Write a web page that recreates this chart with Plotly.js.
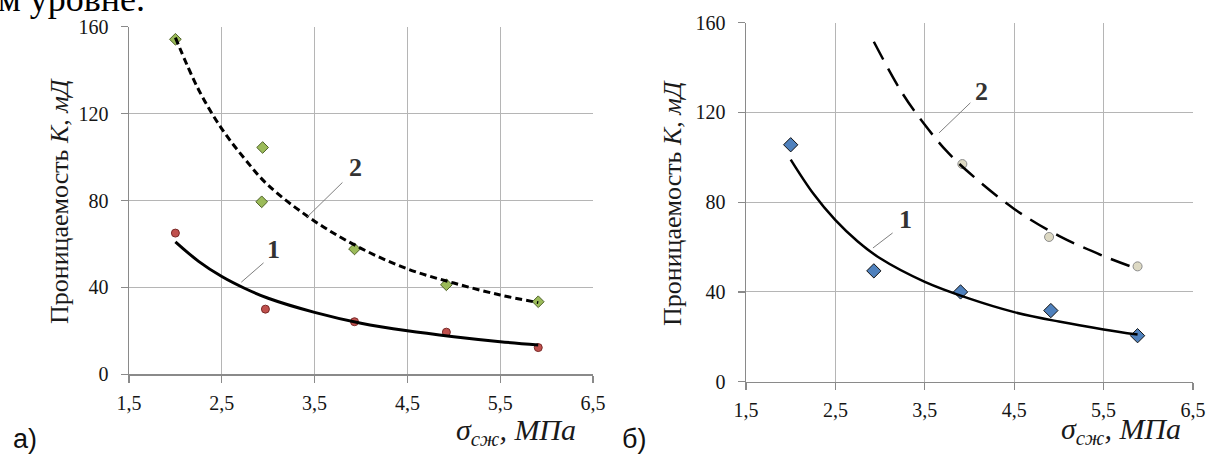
<!DOCTYPE html>
<html><head><meta charset="utf-8">
<script src="https://cdn.plot.ly/plotly-3.0.1.min.js"></script>
<style>html,body{margin:0;padding:0;background:#fff;}#chart{width:1208px;height:455px;}</style>
</head><body><div id="chart"></div>
<script>
// ---- Panel a) ----
const a_sigma1 = [2.0, 2.97, 3.93, 4.92, 5.91];
const a_K1 = [65, 30, 24.2, 19.4, 12.3];
const a_sigma2 = [2.0, 2.94, 2.93, 3.93, 4.92, 5.91];
const a_K2 = [154.2, 104.4, 79.4, 57.7, 41.2, 33.4];
const a_trendX = [2.0, 2.25, 2.5, 2.75, 3.0, 3.5, 4.0, 4.5, 5.0, 5.5, 5.91];
const a_trend1 = [61, 52, 45, 39.5, 35, 28.5, 23.5, 20, 17.3, 15, 13.5];
const a_trend2 = [155, 131, 113, 99, 87, 70.5, 58, 48.5, 42, 36.5, 33];
// ---- Panel б) ----
const b_sigma1 = [2.0, 2.93, 3.90, 4.91, 5.88];
const b_K1 = [105.6, 49.4, 40.0, 31.7, 20.5];
const b_sigma2 = [3.92, 4.89, 5.88];
const b_K2 = [97.0, 64.5, 51.4];
const b_trendX1 = [2.0, 2.25, 2.5, 2.75, 3.0, 3.5, 4.0, 4.5, 5.0, 5.5, 5.88];
const b_trend1 = [99, 84, 72, 62.5, 55, 44.5, 37, 31, 26.8, 23.3, 21];
const b_trendX2 = [2.93, 3.25, 3.5, 3.75, 4.0, 4.5, 5.0, 5.5, 5.88];
const b_trend2 = [151.5, 128.5, 114.5, 102.5, 93, 77, 65, 56, 50.3];
// ---- Axis ticks ----
const xTickVals = [1.5, 2.5, 3.5, 4.5, 5.5, 6.5];
const xTickText = ['1,5', '2,5', '3,5', '4,5', '5,5', '6,5'];
const yTickVals = [0, 40, 80, 120, 160];
const yTickText = ['0', '40', '80', '120', '160'];
const yTitle = 'Проницаемость <i>K</i>, <i>мД</i>';
const xTitle = '<i>σ<sub>сж</sub>, МПа</i>';

const SERIF = 'Liberation Serif';
const traces = [
  {x: a_sigma1, y: a_K1, xaxis: 'x', yaxis: 'y', mode: 'markers', type: 'scatter',
   marker: {symbol: 'circle', size: 8, color: '#c0504d', line: {color: '#7a2a28', width: 1}}},
  {x: a_sigma2, y: a_K2, xaxis: 'x', yaxis: 'y', mode: 'markers', type: 'scatter',
   marker: {symbol: 'diamond', size: 9, color: '#9bbb59', line: {color: '#4f6228', width: 1}}},
  {x: a_trendX, y: a_trend1, xaxis: 'x', yaxis: 'y', mode: 'lines', type: 'scatter',
   line: {color: '#000', width: 3, shape: 'spline'}},
  {x: a_trendX, y: a_trend2, xaxis: 'x', yaxis: 'y', mode: 'lines', type: 'scatter',
   line: {color: '#000', width: 3, shape: 'spline', dash: '7px,4px'}},
  {x: b_sigma1, y: b_K1, xaxis: 'x2', yaxis: 'y2', mode: 'markers', type: 'scatter',
   marker: {symbol: 'diamond', size: 11, color: '#4f81bd', line: {color: '#111', width: 1}}},
  {x: b_sigma2, y: b_K2, xaxis: 'x2', yaxis: 'y2', mode: 'markers', type: 'scatter',
   marker: {symbol: 'circle', size: 9, color: '#ddd9c3', line: {color: '#8c8c8c', width: 1}}},
  {x: b_trendX1, y: b_trend1, xaxis: 'x2', yaxis: 'y2', mode: 'lines', type: 'scatter',
   line: {color: '#000', width: 2.5, shape: 'spline'}},
  {x: b_trendX2, y: b_trend2, xaxis: 'x2', yaxis: 'y2', mode: 'lines', type: 'scatter',
   line: {color: '#000', width: 2.5, shape: 'spline', dash: '20px,10px'}}
];

const tickFont = {family: SERIF, size: 20, color: '#151515'};
function xa(domain, anchor) {
  return {domain: domain, anchor: anchor, range: [1.5, 6.5], tickmode: 'array',
    tickvals: xTickVals, ticktext: xTickText, ticks: 'outside', ticklen: 7, tickwidth: 1.2,
    tickcolor: '#8a8a8a', showgrid: true, gridcolor: '#b5b5b5', gridwidth: 1,
    showline: true, linecolor: '#8a8a8a', linewidth: 1.5, zeroline: false,
    ticklabelstandoff: 3, tickfont: tickFont, fixedrange: true};
}
function ya(domain, anchor) {
  return {domain: domain, anchor: anchor, range: [0, 160], tickmode: 'array',
    tickvals: yTickVals, ticktext: yTickText, ticks: 'outside', ticklen: 7, tickwidth: 1.2,
    tickcolor: '#8a8a8a', showgrid: true, gridcolor: '#b5b5b5', gridwidth: 1,
    showline: true, linecolor: '#8a8a8a', linewidth: 1.5, zeroline: false,
    ticklabelstandoff: 8, tickfont: tickFont, fixedrange: true};
}

const ann = [];
function txt(x, y, xref, yref, text, size, opts) {
  ann.push(Object.assign({x: x, y: y, xref: xref, yref: yref, text: text, showarrow: false,
    xanchor: 'center', yanchor: 'middle',
    font: {family: SERIF, size: size, color: '#1a1a1a'}}, opts || {}));
}
const lblFont = {family: SERIF, size: 26, color: '#333'};
// curve labels
txt(3.94, 95, 'x', 'y', '<b>2</b>', 26, {font: lblFont});
txt(3.06, 57.5, 'x', 'y', '<b>1</b>', 26, {font: lblFont});
txt(4.13, 129.5, 'x2', 'y2', '<b>2</b>', 26, {font: lblFont});
txt(3.28, 72.5, 'x2', 'y2', '<b>1</b>', 26, {font: lblFont});
// axis titles
txt(59 / 1208, 1 - 201 / 455, 'paper', 'paper', yTitle, 26, {textangle: -90});
txt(672 / 1208, 1 - 203 / 455, 'paper', 'paper', yTitle, 26, {textangle: -90});
txt(578 / 1208, 1 - 432 / 455, 'paper', 'paper', xTitle, 30, {xanchor: 'right'});
txt(1183 / 1208, 1 - 431 / 455, 'paper', 'paper', xTitle, 30, {xanchor: 'right'});
// panel letters
const sansFont = {family: 'Liberation Sans', size: 27, color: '#111'};
txt(25 / 1208, 1 - 439 / 455, 'paper', 'paper', 'а)', 27, {font: sansFont});
txt(634 / 1208, 1 - 439 / 455, 'paper', 'paper', 'б)', 27, {font: sansFont});
// cut-off text at the top of the page
txt(-4 / 1208, 1 + 1 / 455, 'paper', 'paper', 'м уровне.', 36, {xanchor: 'left', font: {family: SERIF, size: 36, color: '#000'}});

const leader = {type: 'line', line: {color: '#7f7f7f', width: 1}};
const shapes = [
  Object.assign({xref: 'x', yref: 'y', x0: 3.80, y0: 88.3, x1: 3.41, y1: 72}, leader),
  Object.assign({xref: 'x', yref: 'y', x0: 2.95, y0: 51.3, x1: 2.71, y1: 42.4}, leader),
  Object.assign({xref: 'x2', yref: 'y2', x0: 4.01, y0: 124.3, x1: 3.66, y1: 110.9}, leader),
  Object.assign({xref: 'x2', yref: 'y2', x0: 3.14, y0: 66.3, x1: 2.92, y1: 59.6}, leader)
];

const layout = {
  width: 1208, height: 455, margin: {l: 0, r: 0, t: 0, b: 0},
  font: {family: SERIF, size: 20, color: '#151515'},
  paper_bgcolor: '#fff', plot_bgcolor: '#fff', showlegend: false,
  xaxis: xa([129 / 1208, 593 / 1208], 'y'),
  yaxis: ya([1 - 374.3 / 455, 1 - 26.7 / 455], 'x'),
  xaxis2: xa([746 / 1208, 1193 / 1208], 'y2'),
  yaxis2: ya([1 - 381.7 / 455, 1 - 22.7 / 455], 'x2'),
  annotations: ann, shapes: shapes
};
Plotly.newPlot('chart', traces, layout, {staticPlot: true, displayModeBar: false});
</script></body></html>
